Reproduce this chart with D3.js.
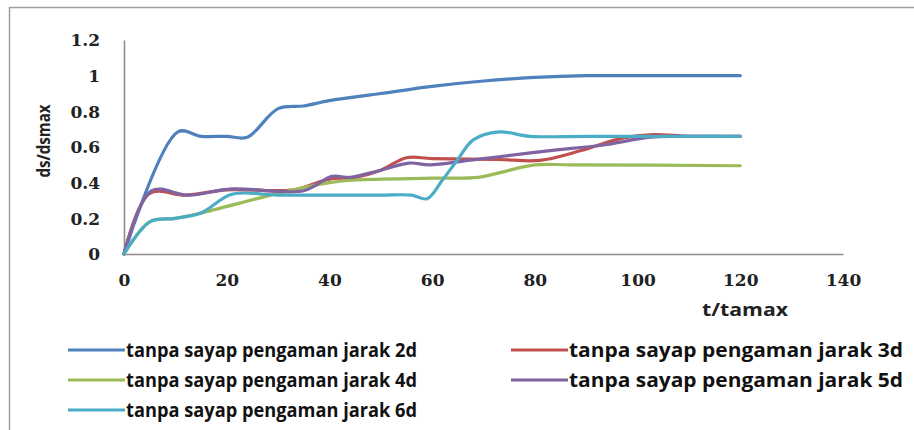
<!DOCTYPE html>
<html><head><meta charset="utf-8">
<script src="https://cdn.jsdelivr.net/npm/d3@7"></script>
<style>html,body{margin:0;padding:0;background:#fff;overflow:hidden}</style>
</head><body>
<svg id="chart" width="914" height="430"></svg>
<script>
const xTicks = [0,20,40,60,80,100,120,140];
const yTicks = [0,0.2,0.4,0.6,0.8,1,1.2];
const yTickLabels = ["0","0.2","0.4","0.6","0.8","1","1.2"];
const seriesNames = ["tanpa sayap pengaman jarak 2d","tanpa sayap pengaman jarak 3d","tanpa sayap pengaman jarak 4d","tanpa sayap pengaman jarak 5d","tanpa sayap pengaman jarak 6d"];
const seriesColors = ["#4F81BD","#C0504D","#9BBB59","#8064A2","#4BACC6"];

const t2d = [0,10.5,15,20,24,30,35,40,50,60,70,80,90,100,120];
const v2d = [0,0.685,0.66,0.66,0.655,0.815,0.83,0.86,0.9,0.94,0.97,0.99,1.0,1.0,1.0];
const t3d = [0,5,12,20,33,40,45,50,55,60,73,81,89,97,103,110,120];
const v3d = [0,0.34,0.33,0.36,0.36,0.42,0.43,0.47,0.54,0.535,0.53,0.525,0.58,0.65,0.67,0.66,0.66];
const t4d = [0,5,10,15,30,40,45,60,69,73,80,87,120];
const v4d = [0,0.18,0.2,0.23,0.34,0.40,0.415,0.425,0.43,0.455,0.5,0.5,0.495];
const t5d = [0,5.4,12.5,21,35,40.5,44,50,55.5,59.5,67,73,83,93,102.5,108,120];
const v5d = [0,0.355,0.33,0.365,0.355,0.435,0.43,0.47,0.51,0.5,0.525,0.545,0.58,0.61,0.655,0.66,0.66];
const t6d = [0,5,10,15,21,30,40,50,56,59,62,65,68,73,79,90,120];
const v6d = [0,0.18,0.2,0.23,0.335,0.33,0.33,0.33,0.33,0.31,0.415,0.53,0.64,0.685,0.66,0.66,0.66];

const tSeries = [t2d,t3d,t4d,t5d,t6d];
const vSeries = [v2d,v3d,v4d,v5d,v6d];

const svg = d3.select("#chart");
svg.append("rect").attr("x",9.5).attr("y",7.5).attr("width",1000).attr("height",1000)
  .attr("fill","#fff").attr("stroke","#a0a0a0").attr("stroke-width",1.5);

const x = d3.scaleLinear().domain([0,140]).range([124,843]);
const y = d3.scaleLinear().domain([0,1.2]).range([254,40]);

const xAxis = svg.append("g").attr("transform","translate(0,254)")
  .call(d3.axisBottom(x).tickValues(xTicks).tickSize(0).tickPadding(20));
const yAxis = svg.append("g").attr("transform","translate(124,0)")
  .call(d3.axisLeft(y).tickValues(yTicks).tickFormat((d,i)=>yTickLabels[i]).tickSize(0).tickPadding(24));
[xAxis,yAxis].forEach(a=>{
  a.select(".domain").attr("stroke","#8c8c8c").attr("stroke-width",1.6);
  a.selectAll("text").attr("font-family","'DejaVu Serif', serif").attr("font-weight","bold")
   .attr("font-size","17px").attr("fill","#222");
});
yAxis.selectAll("text").attr("dy","0.35em");

const line = d3.line().curve(d3.curveCatmullRom.alpha(0.5));
tSeries.forEach((ts,i)=>{
  const pts = ts.map((t,j)=>[x(t), y(vSeries[i][j])]);
  svg.append("path").attr("d",line(pts)).attr("fill","none")
    .attr("stroke",seriesColors[i]).attr("stroke-width",3.2)
    .attr("stroke-linejoin","round").attr("stroke-linecap","round");
});

svg.append("text").attr("x",745).attr("y",316).attr("text-anchor","middle")
  .attr("font-family","'Open Sans', sans-serif").attr("font-weight","bold").attr("font-size","18px")
  .attr("fill","#222").attr("textLength",86).attr("lengthAdjust","spacingAndGlyphs").text("t/tamax");
svg.append("text").attr("transform","translate(50,141) rotate(-90)").attr("text-anchor","middle")
  .attr("font-family","'Open Sans', sans-serif").attr("font-weight","bold").attr("font-size","17px")
  .attr("fill","#222").attr("textLength",73).attr("lengthAdjust","spacingAndGlyphs").text("ds/dsmax");

const legPos = [[68,350],[511,350],[68,380],[511,380],[68,410]];
seriesNames.forEach((n,i)=>{
  const [lx,ly] = legPos[i];
  svg.append("line").attr("x1",lx).attr("x2",lx+57).attr("y1",ly).attr("y2",ly)
    .attr("stroke",seriesColors[i]).attr("stroke-width",3.2);
  svg.append("text").attr("x",lx+58).attr("y",ly+7)
    .attr("font-family","'Open Sans', sans-serif").attr("font-weight","bold").attr("font-size","19px")
    .attr("fill","#111").attr("textLength",i%2===0?291:334).attr("lengthAdjust","spacingAndGlyphs").text(n);
});
</script>
</body></html>
